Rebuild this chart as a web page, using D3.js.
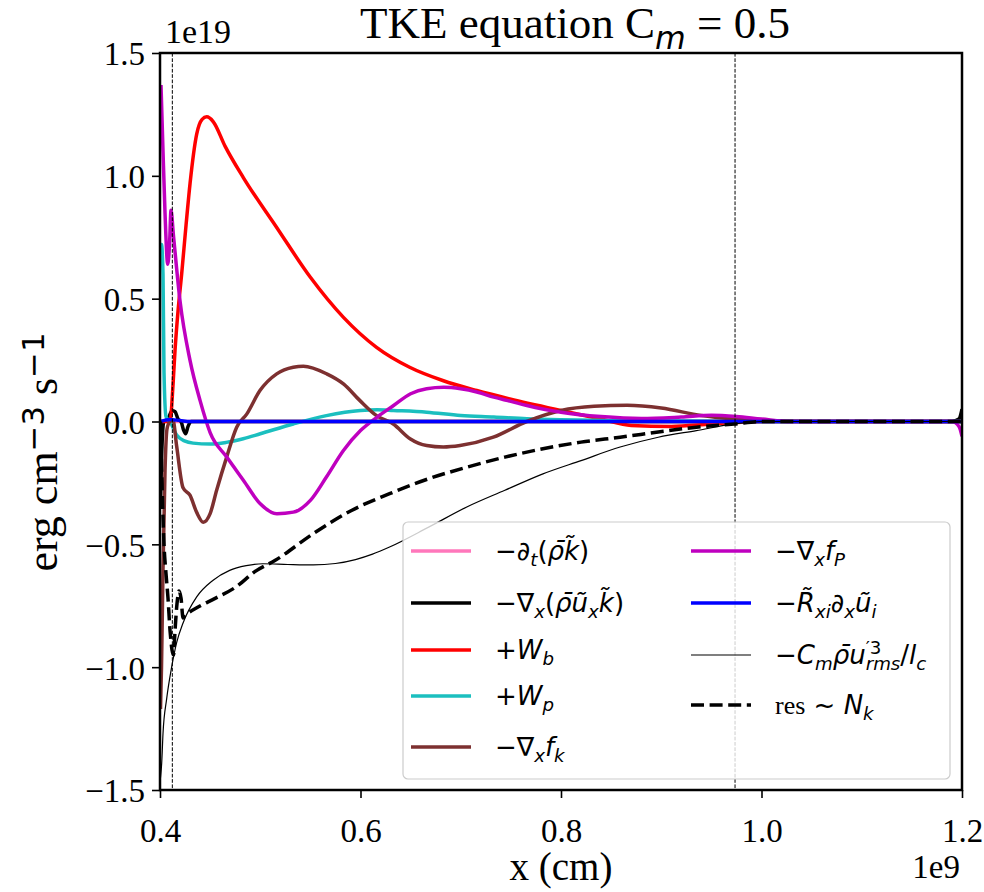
<!DOCTYPE html>
<html>
<head>
<meta charset="utf-8">
<script src="https://cdn.jsdelivr.net/npm/d3@7"></script>
<style>
  body { margin: 0; background: #fff; }
</style>
</head>
<body>
<div id="visualization"></div>
<script>
const width = 984;
const height = 892;
const margin = {top: 53, right: 22, bottom: 102, left: 160};
const serif = "'Liberation Serif', 'Times New Roman', serif";
const sans = "'DejaVu Sans', sans-serif";

// x in units of 1e9 cm, y in units of 1e19 erg cm^-3 s^-1
const xTicks = [0.4, 0.6, 0.8, 1.0, 1.2];
const yTicks = [-1.5, -1.0, -0.5, 0.0, 0.5, 1.0, 1.5];
const vLines = [0.4123, 0.9736];

const dtX = [0.4005, 1.2];
const dtY = [0, 0];

const fluxX = [0.4005, 0.402, 0.404, 0.408, 0.412, 0.415, 0.418, 0.421, 0.4235, 0.4255, 0.428, 0.431, 0.5, 1.19, 1.197, 1.2];
const fluxY = [-0.35, -0.1, 0.0, 0.01, 0.045, 0.04, 0.01, 0.0, -0.035, -0.05, -0.02, 0.0, 0, 0, 0.01, 0.05];

const wbX = [0.40, 0.405, 0.41, 0.413, 0.415, 0.418, 0.4216, 0.426, 0.430, 0.4366, 0.442, 0.4466, 0.4532, 0.465, 0.4831, 0.5164, 0.550, 0.583, 0.616, 0.649, 0.682, 0.716, 0.749, 0.80, 0.84, 0.87, 0.91, 0.95, 1.0, 1.05, 1.2];
const wbY = [0, 0, 0.0, 0.15, 0.29, 0.45, 0.60, 0.80, 0.97, 1.17, 1.23, 1.24, 1.22, 1.12, 0.993, 0.79, 0.587, 0.424, 0.302, 0.221, 0.167, 0.126, 0.092, 0.045, 0.01, -0.016, -0.02, -0.01, 0, 0, 0];

const wpX = [0.4005, 0.4015, 0.403, 0.404, 0.406, 0.41, 0.4166, 0.425, 0.433, 0.45, 0.466, 0.483, 0.50, 0.533, 0.566, 0.60, 0.6166, 0.633, 0.666, 0.70, 0.733, 0.766, 0.80, 0.85, 0.9, 1.0, 1.2];
const wpY = [0.72, 0.72, 0.6, 0.2, 0.02, 0.0, -0.055, -0.08, -0.088, -0.092, -0.085, -0.07, -0.05, -0.01, 0.024, 0.045, 0.048, 0.045, 0.038, 0.024, 0.018, 0.011, 0.007, 0.004, 0.002, 0, 0];

const fkX = [0.4005, 0.4015, 0.403, 0.405, 0.407, 0.41, 0.413, 0.4166, 0.423, 0.4299, 0.4366, 0.4432, 0.45, 0.4565, 0.4665, 0.4765, 0.4865, 0.4997, 0.5164, 0.533, 0.543, 0.5663, 0.583, 0.5995, 0.616, 0.6327, 0.6494, 0.666, 0.6826, 0.6993, 0.7325, 0.7658, 0.80, 0.833, 0.866, 0.90, 0.94, 0.97, 1.0, 1.05, 1.2];
const fkY = [-1.17, -1.0, -0.6, -0.2, -0.03, 0.0, 0.005, -0.1, -0.27, -0.30, -0.37, -0.41, -0.375, -0.28, -0.145, -0.023, 0.03, 0.126, 0.194, 0.221, 0.225, 0.194, 0.153, 0.085, 0.024, -0.01, -0.07, -0.098, -0.104, -0.098, -0.064, 0.0, 0.045, 0.062, 0.066, 0.055, 0.024, 0.011, 0.004, 0, 0];

const fpX = [0.401, 0.403, 0.405, 0.4077, 0.4095, 0.411, 0.4133, 0.42, 0.43, 0.44, 0.45, 0.4666, 0.4833, 0.50, 0.5166, 0.533, 0.55, 0.566, 0.583, 0.60, 0.6166, 0.633, 0.65, 0.666, 0.683, 0.70, 0.716, 0.733, 0.75, 0.766, 0.783, 0.80, 0.84, 0.88, 0.92, 0.95, 0.975, 1.0, 1.03, 1.19, 1.197, 1.2];
const fpY = [1.37, 1.1, 0.85, 0.64, 0.72, 0.86, 0.763, 0.49, 0.248, 0.085, -0.045, -0.145, -0.24, -0.335, -0.375, -0.369, -0.321, -0.226, -0.118, -0.037, 0.018, 0.065, 0.113, 0.133, 0.139, 0.133, 0.12, 0.099, 0.082, 0.065, 0.05, 0.038, 0.02, 0.012, 0.018, 0.025, 0.02, 0.01, 0, 0, -0.02, -0.06];

const rxiX = [0.4005, 0.41, 0.42, 0.43, 1.2];
const rxiY = [0, 0.008, 0.004, 0, 0];

const dissX = [0.4005, 0.4017, 0.403, 0.4066, 0.4116, 0.4166, 0.423, 0.4366, 0.453, 0.4695, 0.486, 0.5025, 0.5275, 0.553, 0.575, 0.595, 0.612, 0.629, 0.668, 0.706, 0.744, 0.782, 0.820, 0.859, 0.897, 0.935, 0.973, 1.0, 1.05, 1.2];
const dissY = [-1.45, -1.39, -1.27, -1.13, -1.0, -0.90, -0.82, -0.714, -0.646, -0.606, -0.587, -0.579, -0.582, -0.584, -0.578, -0.562, -0.540, -0.511, -0.43, -0.348, -0.28, -0.213, -0.159, -0.104, -0.064, -0.037, -0.01, 0, 0, 0];

const resX = [0.4005, 0.402, 0.404, 0.406, 0.408, 0.410, 0.412, 0.4135, 0.415, 0.417, 0.419, 0.421, 0.423, 0.425, 0.428, 0.438, 0.455, 0.476, 0.495, 0.515, 0.553, 0.591, 0.629, 0.668, 0.706, 0.744, 0.782, 0.820, 0.859, 0.897, 0.935, 0.973, 1.0, 1.05, 1.2];
const resY = [0, -0.25, -0.5, -0.62, -0.72, -0.85, -0.93, -0.95, -0.85, -0.74, -0.69, -0.72, -0.8, -0.79, -0.78, -0.755, -0.72, -0.673, -0.61, -0.565, -0.456, -0.362, -0.294, -0.233, -0.186, -0.145, -0.111, -0.084, -0.064, -0.043, -0.023, -0.01, 0, 0, 0];

// label pieces: t text, it italic, sub/sup, serif, back = overlap previous piece
const series = [
    {x: dtX, y: dtY, color: '#ff77bb', w: 3.5, col: 0,
     label: [{t: '\u2212\u2202'}, {t: 't', it: 1, sub: 1}, {t: '('}, {t: '\u03C1\u0304k\u0303', it: 1}, {t: ')'}]},
    {x: fluxX, y: fluxY, color: '#000000', w: 3.5, col: 0,
     label: [{t: '\u2212\u2207'}, {t: 'x', it: 1, sub: 1}, {t: '('}, {t: '\u03C1\u0304u\u0303', it: 1}, {t: 'x', it: 1, sub: 1}, {t: 'k\u0303', it: 1}, {t: ')'}]},
    {x: wbX, y: wbY, color: '#ff0000', w: 3.5, col: 0,
     label: [{t: '+'}, {t: 'W', it: 1}, {t: 'b', it: 1, sub: 1}]},
    {x: wpX, y: wpY, color: '#1bbfbf', w: 3.5, col: 0,
     label: [{t: '+'}, {t: 'W', it: 1}, {t: 'p', it: 1, sub: 1}]},
    {x: fkX, y: fkY, color: '#7d3030', w: 3.5, col: 0,
     label: [{t: '\u2212\u2207'}, {t: 'x', it: 1, sub: 1}, {t: 'f', it: 1}, {t: 'k', it: 1, sub: 1}]},
    {x: fpX, y: fpY, color: '#bf00bf', w: 3.5, col: 1,
     label: [{t: '\u2212\u2207'}, {t: 'x', it: 1, sub: 1}, {t: 'f', it: 1}, {t: 'P', it: 1, sub: 1}]},
    {x: rxiX, y: rxiY, color: '#0000ff', w: 3.5, col: 1,
     label: [{t: '\u2212'}, {t: 'R\u0303', it: 1}, {t: 'xi', it: 1, sub: 1}, {t: '\u2202'}, {t: 'x', it: 1, sub: 1}, {t: 'u\u0303', it: 1}, {t: 'i', it: 1, sub: 1}]},
    {x: dissX, y: dissY, color: '#000000', w: 1.2, col: 1,
     label: [{t: '\u2212'}, {t: 'C', it: 1}, {t: 'm', it: 1, sub: 1}, {t: '\u03C1\u0304u', it: 1}, {t: '\u20323', sup: 1}, {t: 'rms', it: 1, sub: 1, back: 1}, {t: '/'}, {t: 'l', it: 1}, {t: 'c', it: 1, sub: 1}]},
    {x: resX, y: resY, color: '#000000', w: 3.5, dash: '13,5.6', col: 1,
     label: [{t: 'res', serif: 1}, {t: '  ~ '}, {t: 'N', it: 1}, {t: 'k', it: 1, sub: 1}]}
];

const innerWidth = width - margin.left - margin.right;
const innerHeight = height - margin.top - margin.bottom;

const svg = d3.select('#visualization')
    .append('svg')
    .attr('width', width)
    .attr('height', height);

const g = svg.append('g')
    .attr('transform', `translate(${margin.left},${margin.top})`);

const xScale = d3.scaleLinear().domain([0.4, 1.2]).range([0, innerWidth]);
const yScale = d3.scaleLinear().domain([-1.5, 1.5]).range([innerHeight, 0]);

svg.append('defs').append('clipPath').attr('id', 'plot-clip')
    .append('rect').attr('width', innerWidth).attr('height', innerHeight);

function mathText(sel, pieces, size, supShift) {
    let shift = 0;
    let prev = null;
    pieces.forEach(p => {
        const target = p.sub ? size * 0.24 : p.sup ? -size * (supShift || 0.4) : 0;
        const ts = sel.append('tspan')
            .attr('dy', target - shift)
            .attr('font-size', (p.sub || p.sup) ? size * 0.7 : size)
            .attr('font-style', p.it ? 'italic' : 'normal')
            .attr('font-family', p.serif ? serif : sans)
            .text(p.t);
        if (p.back && prev) ts.attr('dx', -prev.node().getComputedTextLength());
        shift = target;
        prev = ts;
    });
}

function drawCurves() {
    const line = d3.line()
        .x(d => xScale(d[0]))
        .y(d => yScale(d[1]))
        .curve(d3.curveMonotoneX);
    const curves = g.append('g').attr('clip-path', 'url(#plot-clip)');
    series.forEach(s => {
        curves.append('path')
            .datum(d3.zip(s.x, s.y))
            .attr('d', line)
            .attr('fill', 'none')
            .attr('stroke', s.color)
            .attr('stroke-width', s.w)
            .attr('stroke-dasharray', s.dash || null)
            .attr('stroke-linejoin', 'round');
    });
    vLines.forEach(v => {
        g.append('line')
            .attr('x1', xScale(v)).attr('x2', xScale(v))
            .attr('y1', 0).attr('y2', innerHeight)
            .attr('stroke', 'black')
            .attr('stroke-width', 1)
            .attr('stroke-dasharray', '3.7,1.6');
    });
}

function drawAxes() {
    const xAxis = g.append('g')
        .attr('transform', `translate(0,${innerHeight})`)
        .call(d3.axisBottom(xScale).tickValues(xTicks).tickFormat(d3.format('.1f')).tickSizeOuter(0).tickSize(8));
    xAxis.select('.domain').remove();
    xAxis.selectAll('line').attr('stroke-width', 1.6);
    xAxis.selectAll('text')
        .attr('y', 52).attr('dy', 0)
        .attr('font-family', serif).attr('font-size', 33).attr('fill', 'black');

    const yAxis = g.append('g')
        .call(d3.axisLeft(yScale).tickValues(yTicks).tickFormat(d3.format('.1f')).tickSizeOuter(0).tickSize(8));
    yAxis.select('.domain').remove();
    yAxis.selectAll('line').attr('stroke-width', 1.6);
    yAxis.selectAll('text')
        .attr('x', -15).attr('dy', '0.36em')
        .attr('font-family', serif).attr('font-size', 33).attr('fill', 'black');

    g.append('rect')
        .attr('width', innerWidth).attr('height', innerHeight)
        .attr('fill', 'none').attr('stroke', 'black').attr('stroke-width', 2.5);

    svg.append('text')
        .attr('x', 165).attr('y', 43)
        .attr('font-family', serif).attr('font-size', 34)
        .text('1e19');
    svg.append('text')
        .attr('x', 960).attr('y', 878)
        .attr('text-anchor', 'end')
        .attr('font-family', serif).attr('font-size', 33)
        .text('1e9');

    svg.append('text')
        .attr('x', margin.left + innerWidth / 2).attr('y', 880)
        .attr('text-anchor', 'middle')
        .attr('font-family', serif).attr('font-size', 39)
        .text('x (cm)');

    const yl = svg.append('text')
        .attr('transform', 'translate(57,452) rotate(-90)')
        .attr('text-anchor', 'middle');
    mathText(yl, [{t: 'erg cm', serif: 1}, {t: '\u22123', sup: 1}, {t: ' s', serif: 1}, {t: '\u22121', sup: 1}], 44, 0.3);

    const title = svg.append('text')
        .attr('x', margin.left + innerWidth / 2 + 14).attr('y', 38)
        .attr('text-anchor', 'middle');
    mathText(title, [{t: 'TKE equation C', serif: 1}, {t: 'm', it: 1, sub: 1}, {t: ' = 0.5', serif: 1}], 45);
}

function drawLegend() {
    const box = {x0: 403, y0: 522, x1: 950, y1: 779};
    svg.append('rect')
        .attr('x', box.x0).attr('y', box.y0)
        .attr('width', box.x1 - box.x0).attr('height', box.y1 - box.y0)
        .attr('rx', 5)
        .attr('fill', 'white').attr('fill-opacity', 0.8)
        .attr('stroke', '#cccccc').attr('stroke-width', 1.2);

    const colX = [411, 691];
    const rowY = [[551, 603, 650, 696, 747], [551, 603, 655, 705]];
    const count = [0, 0];
    series.forEach(s => {
        const c = s.col;
        const yy = rowY[c][count[c]++];
        svg.append('line')
            .attr('x1', colX[c]).attr('x2', colX[c] + 60)
            .attr('y1', yy).attr('y2', yy)
            .attr('stroke', s.color)
            .attr('stroke-width', s.w)
            .attr('stroke-dasharray', s.dash || null);
        const t = svg.append('text')
            .attr('x', colX[c] + 84).attr('y', yy + 9);
        mathText(t, s.label, 26);
    });
}

drawCurves();
drawAxes();
drawLegend();
</script>
</body>
</html>
